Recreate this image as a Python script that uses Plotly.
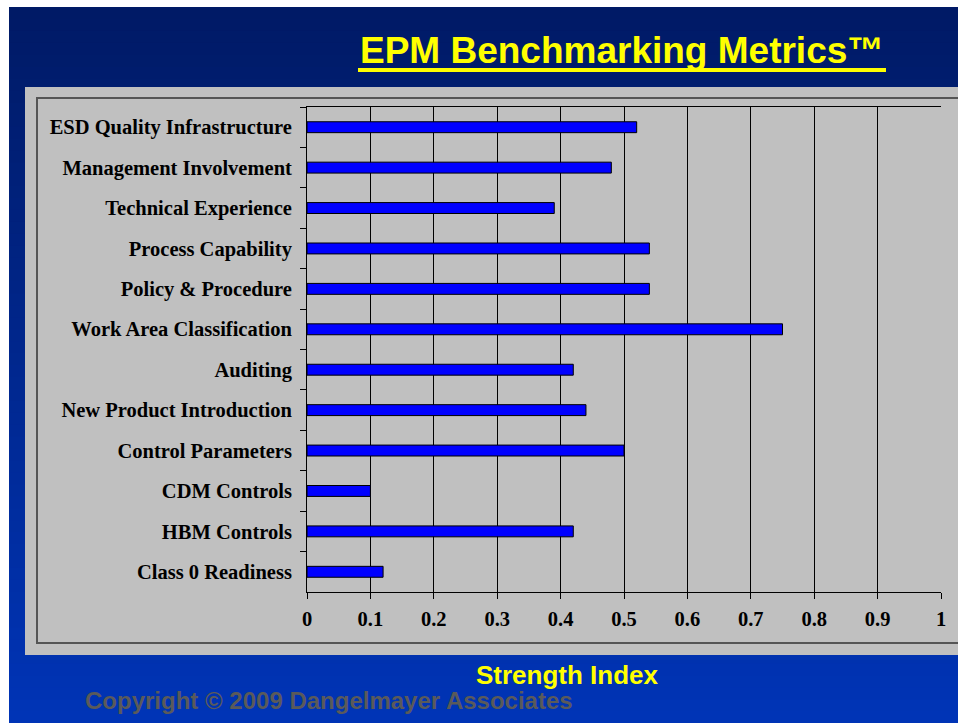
import plotly.graph_objects as go

categories = ["ESD Quality Infrastructure", "Management Involvement", "Technical Experience",
              "Process Capability", "Policy & Procedure", "Work Area Classification",
              "Auditing", "New Product Introduction", "Control Parameters",
              "CDM Controls", "HBM Controls", "Class 0 Readiness"]
strength = [0.52, 0.48, 0.39, 0.54, 0.54, 0.75, 0.42, 0.44, 0.50, 0.10, 0.42, 0.12]
x_ticks = [0, 0.1, 0.2, 0.3, 0.4, 0.5, 0.6, 0.7, 0.8, 0.9, 1]
x_tick_labels = ["0", "0.1", "0.2", "0.3", "0.4", "0.5", "0.6", "0.7", "0.8", "0.9", "1"]

W, H = 958, 723
L, R, T, B = 307, 941, 107, 592

def px(x):
    return (x - L) / (R - L)

def py(y):
    return (B - y) / (B - T)

fig = go.Figure(go.Bar(
    y=categories, x=strength, orientation="h",
    marker=dict(color="#0000ff", line=dict(color="#000000", width=1)),
    width=0.27,
))

shapes = []
# gradient background
n = 60
top_c = (0x00, 0x1a, 0x66)
bot_c = (0x00, 0x34, 0xb6)
y0, y1 = 7, H
for i in range(n):
    t = i / (n - 1)
    c = tuple(int(round(top_c[k] + (bot_c[k] - top_c[k]) * t)) for k in range(3))
    ya = y0 + (y1 - y0) * i / n
    yb = y0 + (y1 - y0) * (i + 1) / n + 1
    shapes.append(dict(type="rect", xref="paper", yref="paper", layer="below",
                       x0=px(9), x1=px(W + 2), y0=py(ya), y1=py(min(yb, H + 2)),
                       fillcolor="rgb(%d,%d,%d)" % c, line=dict(width=0)))
# gray panel
shapes.append(dict(type="rect", xref="paper", yref="paper", layer="below",
                   x0=px(25), x1=px(W + 2), y0=py(87), y1=py(655),
                   fillcolor="#c0c0c0", line=dict(width=0)))
# inner border
shapes.append(dict(type="rect", xref="paper", yref="paper", layer="below",
                   x0=px(37), x1=px(W + 5), y0=py(98), y1=py(643),
                   fillcolor="#c0c0c0", line=dict(color="#555555", width=2)))
# title underline
shapes.append(dict(type="line", xref="paper", yref="paper",
                   x0=px(358), x1=px(886), y0=py(70), y1=py(70),
                   line=dict(color="#ffff00", width=4)))

annotations = [
    dict(text="<b>EPM Benchmarking Metrics™</b>", xref="paper", yref="paper",
         x=px(622), y=py(51), xanchor="center", yanchor="middle", showarrow=False,
         font=dict(family="Liberation Sans, Arial", size=37, color="#ffff00")),
    dict(text="<b>Copyright © 2009 Dangelmayer Associates</b>", xref="paper", yref="paper",
         x=px(83), y=py(700), xanchor="left", yanchor="middle", showarrow=False,
         font=dict(family="Liberation Sans, Arial", size=24, color="#5a5a5a")),
    dict(text="<b>Strength Index</b>", xref="paper", yref="paper",
         x=px(567), y=py(675), xanchor="center", yanchor="middle", showarrow=False,
         font=dict(family="Liberation Sans, Arial", size=26, color="#ffff00")),
]

tick_font = dict(family="Liberation Serif, Times New Roman", size=20.5, color="#000000", weight="bold")

fig.update_layout(
    width=W, height=H,
    margin=dict(l=L, r=W - R, t=T, b=H - B, pad=0),
    paper_bgcolor="#ffffff", plot_bgcolor="#c0c0c0",
    showlegend=False,
    shapes=shapes, annotations=annotations,
    xaxis=dict(range=[0, 1], tickvals=x_ticks, ticktext=x_tick_labels,
               showgrid=True, gridcolor="#000000", gridwidth=1,
               showline=True, linecolor="#000000", linewidth=1, mirror=True,
               ticks="outside", ticklen=6, tickcolor="#000000", tickwidth=1,
               tickfont=tick_font, ticklabelstandoff=2, zeroline=False, fixedrange=True),
    yaxis=dict(autorange="reversed", type="category", tickson="boundaries",
               showgrid=False, showline=True, linecolor="#000000", linewidth=1,
               ticks="outside", ticklen=6, tickcolor="#000000", tickwidth=1,
               tickfont=tick_font, ticklabelstandoff=10, fixedrange=True),
)

fig.write_html("out.html", config={"displayModeBar": False},
               post_script="document.body.style.margin='0';document.body.style.overflow='hidden';")
